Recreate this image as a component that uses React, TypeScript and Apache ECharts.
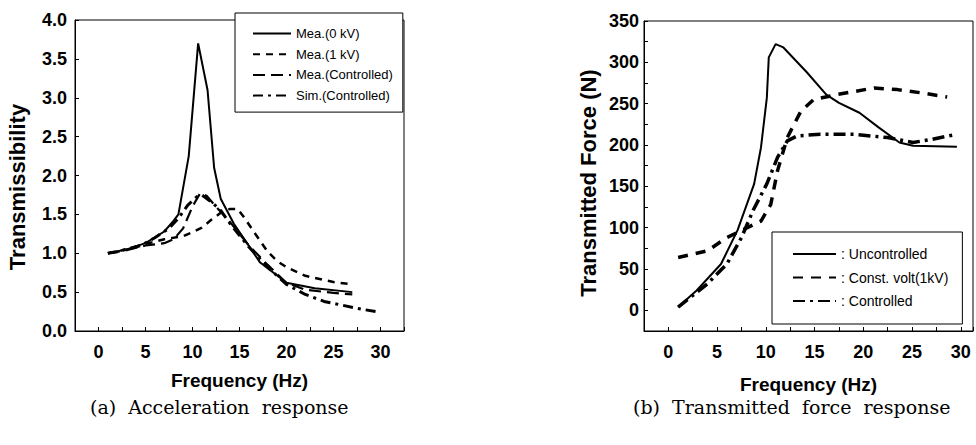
import React, { useEffect, useRef } from "react";
import * as echarts from "echarts";

// ---- (a) Acceleration response : Transmissibility ----
const freq0kV = [1, 3, 5, 7, 8, 8.5, 9.6, 10.6, 11.6, 12.3, 13, 14.4, 17.2, 20, 23, 27];
const trans0kV = [1.0, 1.05, 1.13, 1.28, 1.42, 1.5, 2.25, 3.7, 3.1, 2.1, 1.7, 1.38, 0.88, 0.62, 0.55, 0.5];

const freq1kV = [1, 3, 5, 7, 9, 10, 11, 12, 13, 14, 14.8, 15.5, 16.5, 18, 19, 20, 22, 25, 27];
const trans1kV = [1.0, 1.05, 1.12, 1.18, 1.22, 1.27, 1.33, 1.43, 1.52, 1.57, 1.57, 1.46, 1.28, 1.02, 0.9, 0.82, 0.71, 0.63, 0.6];

const freqMeaCtrl = [1, 3, 5, 7, 8, 9, 10, 10.8, 11.5, 12.5, 14, 16, 18, 20, 22, 25, 27];
const transMeaCtrl = [1.0, 1.04, 1.1, 1.13, 1.18, 1.32, 1.6, 1.77, 1.74, 1.6, 1.4, 1.1, 0.85, 0.62, 0.53, 0.49, 0.47];

const freqSimCtrl = [1, 2, 4.5, 6, 7.5, 8.5, 9.5, 10.5, 11, 12, 13, 14, 16, 18, 20, 22, 24, 26, 28, 30];
const transSimCtrl = [1.0, 1.02, 1.1, 1.2, 1.32, 1.45, 1.62, 1.73, 1.75, 1.66, 1.55, 1.38, 1.08, 0.82, 0.6, 0.47, 0.38, 0.33, 0.28, 0.24];

// ---- (b) Transmitted force response ----
const freqUnctrl = [1, 2.9, 5.4, 7.1, 8.8, 9.5, 10.1, 10.3, 11, 11.8, 14.2, 16.2, 17.5, 19.6, 21.6, 23.7, 25.1, 29.6];
const forceUnctrl = [4, 24, 56, 97, 153, 197, 257, 306, 322, 318, 288, 261, 251, 239, 221, 203, 199, 198];

const freqConst = [1, 4, 6, 8.1, 9.5, 10.5, 11.2, 12.2, 13.6, 14.9, 17.3, 21.1, 23.5, 26, 28.6];
const forceConst = [64, 72, 88, 100, 108, 128, 169, 209, 241, 255, 261, 269, 267, 263, 258];

const freqCtrl = [1, 4, 6, 7.5, 8.7, 10.1, 11.2, 12.2, 13.2, 15.6, 19, 22.5, 25.1, 27.1, 29.6];
const forceCtrl = [4, 32, 56, 88, 121, 153, 185, 205, 211, 213, 213, 209, 203, 207, 213];

const xTicks = [0, 5, 10, 15, 20, 25, 30];
const yTicksA = [0, 0.5, 1, 1.5, 2, 2.5, 3, 3.5, 4];
const yTicksB = [0, 50, 100, 150, 200, 250, 300, 350];

const pairs = (xs: number[], ys: number[]) => xs.map((x, i) => [x, ys[i]]);

const FONT = "Liberation Sans";

export default function App() {
  const ref = useRef<HTMLDivElement>(null);
  useEffect(() => {
    if (!ref.current) return;
    const chart = echarts.init(ref.current, null, { renderer: "svg" });
    const axisLabel = (fmt: (v: number) => string, margin: number) => ({
      color: "#000",
      fontFamily: FONT,
      fontSize: 18,
      fontWeight: "bold" as const,
      formatter: fmt,
      margin,
    });
    const tick = { show: true, inside: true, length: 4, lineStyle: { color: "#000" } };
    const line = { show: true, onZero: false, lineStyle: { color: "#000", width: 1 } };
    const nameStyle = { color: "#000", fontFamily: FONT, fontSize: 19, fontWeight: "bold" as const };
    const lineSeries = (name: string, data: number[][], xi: number, type: any, width: number) => ({
      name,
      type: "line",
      xAxisIndex: xi,
      yAxisIndex: xi,
      data,
      showSymbol: false,
      symbol: "none",
      color: "#000",
      itemStyle: { color: "#000" },
      lineStyle: { color: "#000", width, type },
    });
    chart.setOption({
      animation: false,
      backgroundColor: "#fff",
      grid: [
        { left: 75, top: 20, width: 329, height: 311, show: true, borderColor: "#000", borderWidth: 1 },
        { left: 644, top: 21, width: 329, height: 310, show: true, borderColor: "#000", borderWidth: 1 },
      ],
      xAxis: [
        {
          gridIndex: 0, type: "value", min: -2.5, max: 32.5, interval: 2.5,
          axisLine: line, axisTick: tick, splitLine: { show: false },
          axisLabel: axisLabel((v) => (xTicks.includes(v) ? String(v) : ""), 12),
          name: "Frequency (Hz)", nameLocation: "middle", nameGap: 40, nameTextStyle: nameStyle,
        },
        {
          gridIndex: 1, type: "value", min: -2.5, max: 31.25, interval: 2.5,
          axisLine: line, axisTick: tick, splitLine: { show: false },
          axisLabel: axisLabel((v) => (xTicks.includes(v) ? String(v) : ""), 12),
          name: "Frequency (Hz)", nameLocation: "middle", nameGap: 44, nameTextStyle: nameStyle,
        },
      ],
      yAxis: [
        {
          gridIndex: 0, type: "value", min: 0, max: 4, interval: 0.5,
          axisLine: line, axisTick: tick, splitLine: { show: false },
          axisLabel: axisLabel((v) => (yTicksA.includes(v) ? v.toFixed(1) : ""), 8),
        },
        {
          gridIndex: 1, type: "value", min: -25, max: 350, interval: 25,
          axisLine: line, axisTick: tick, splitLine: { show: false },
          axisLabel: axisLabel((v) => (yTicksB.includes(v) ? String(v) : ""), 5),
        },
      ],
      legend: [
        {
          data: ["Mea.(0 kV)", "Mea.(1 kV)", "Mea.(Controlled)", "Sim.(Controlled)"],
          left: 235, top: 13, orient: "vertical", itemWidth: 38, itemHeight: 14, itemGap: 7.7,
          backgroundColor: "#fff", borderColor: "#000", borderWidth: 1, padding: [14, 10, 10, 17],
          itemStyle: { opacity: 0 },
          textStyle: { color: "#000", fontFamily: FONT, fontSize: 13 },
        },
        {
          data: ["Uncontrolled", "Const. volt(1kV)", "Controlled"],
          left: 772, top: 232, orient: "vertical", itemWidth: 43, itemHeight: 14, itemGap: 9.5,
          backgroundColor: "#fff", borderColor: "#000", borderWidth: 1, padding: [15, 14, 16, 20],
          itemStyle: { opacity: 0 },
          formatter: (n: string) => ": " + n,
          textStyle: { color: "#000", fontFamily: FONT, fontSize: 14 },
        },
      ],
      series: [
        lineSeries("Mea.(0 kV)", pairs(freq0kV, trans0kV), 0, "solid", 2),
        lineSeries("Mea.(1 kV)", pairs(freq1kV, trans1kV), 0, [7, 6], 2.5),
        lineSeries("Mea.(Controlled)", pairs(freqMeaCtrl, transMeaCtrl), 0, [12, 6], 2.2),
        lineSeries("Sim.(Controlled)", pairs(freqSimCtrl, transSimCtrl), 0, [10, 5, 3, 5], 3),
        lineSeries("Uncontrolled", pairs(freqUnctrl, forceUnctrl), 1, "solid", 2),
        lineSeries("Const. volt(1kV)", pairs(freqConst, forceConst), 1, [10, 8], 3.5),
        lineSeries("Controlled", pairs(freqCtrl, forceCtrl), 1, [12, 5, 3, 5], 3.5),
      ],
      graphic: [
        {
          type: "text", x: 17, y: 187, rotation: Math.PI / 2,
          style: { text: "Transmissibility", fontFamily: FONT, fontSize: 22, fontWeight: "bold", fill: "#000", align: "center", verticalAlign: "middle" },
        },
        {
          type: "text", x: 588, y: 183, rotation: Math.PI / 2,
          style: { text: "Transmitted Force (N)", fontFamily: FONT, fontSize: 22, fontWeight: "bold", fill: "#000", align: "center", verticalAlign: "middle" },
        },
        {
          type: "text", left: 90, top: 397,
          style: { text: "(a)  Acceleration  response", fontFamily: "DejaVu Serif", fontSize: 19, fill: "#000" },
        },
        {
          type: "text", left: 633, top: 397,
          style: { text: "(b)  Transmitted  force  response", fontFamily: "DejaVu Serif", fontSize: 19, fill: "#000" },
        },
      ],
    });
    return () => chart.dispose();
  }, []);
  return <div ref={ref} style={{ position: "absolute", left: 0, top: 0, width: 976, height: 445 }} />;
}
